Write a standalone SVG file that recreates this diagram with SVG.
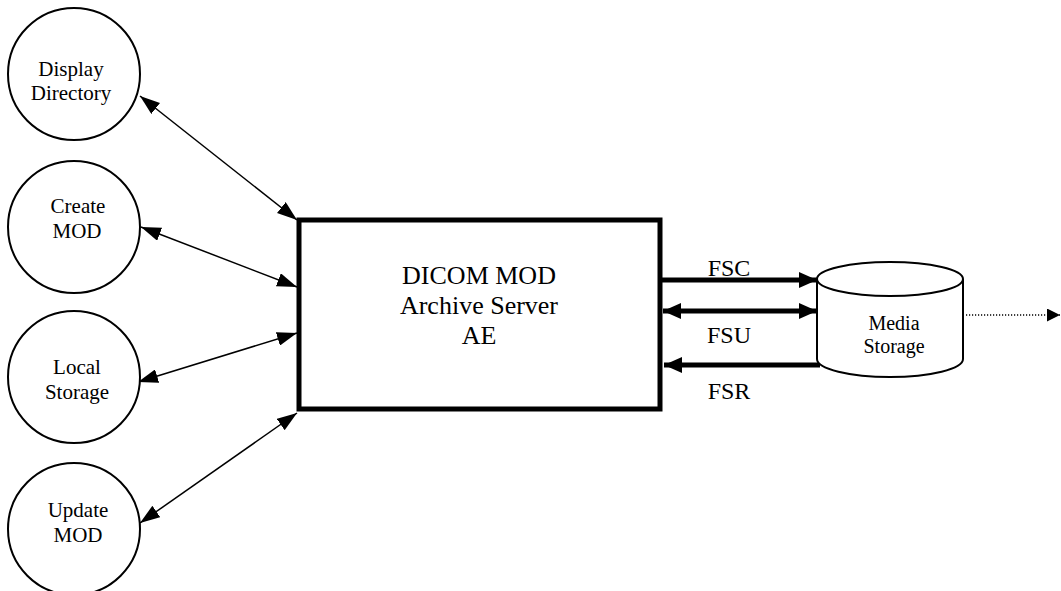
<svg xmlns="http://www.w3.org/2000/svg" width="1061" height="591" viewBox="0 0 1061 591" font-family="'Liberation Serif', 'Times New Roman', 'DejaVu Serif', serif">
<style>
.c{fill:#fff;stroke:#000;stroke-width:2}
.t{font-family:'Liberation Serif','Times New Roman','DejaVu Serif',serif;fill:#000;text-anchor:middle}
.s{font-size:21px}
.thin{stroke:#000;stroke-width:1.5;fill:none}
.thick{stroke:#000;stroke-width:5;fill:none}
</style>
<defs>
<marker id="ah" markerUnits="userSpaceOnUse" markerWidth="20" markerHeight="14" refX="20" refY="7" orient="auto-start-reverse"><path d="M0,0 L20,7 L0,14 z" fill="#000"/></marker>
<marker id="ahb" markerUnits="userSpaceOnUse" markerWidth="18" markerHeight="16" refX="18" refY="8" orient="auto-start-reverse"><path d="M0,0 L18,8 L0,16 z" fill="#000"/></marker>
<marker id="ahd" markerUnits="userSpaceOnUse" markerWidth="13" markerHeight="13" refX="13" refY="6.5" orient="auto"><path d="M0,0 L13,6.5 L0,13 z" fill="#000"/></marker>
</defs>
<rect width="1061" height="591" fill="#fff"/>
<g id="connectors">
<line class="thin" x1="140" y1="96" x2="297" y2="220" marker-start="url(#ah)" marker-end="url(#ah)"/>
<line class="thin" x1="141" y1="227" x2="297" y2="287" marker-start="url(#ah)" marker-end="url(#ah)"/>
<line class="thin" x1="138" y1="382" x2="297" y2="333" marker-start="url(#ah)" marker-end="url(#ah)"/>
<line class="thin" x1="140" y1="523" x2="297" y2="413" marker-start="url(#ah)" marker-end="url(#ah)"/>
<line class="thick" x1="660" y1="280" x2="817" y2="280" marker-end="url(#ahb)"/>
<line class="thick" x1="663" y1="311" x2="817" y2="311" marker-start="url(#ahb)" marker-end="url(#ahb)"/>
<line class="thick" x1="820" y1="365" x2="664" y2="365" marker-end="url(#ahb)"/>
<line x1="966" y1="315" x2="1060" y2="315" stroke="#000" stroke-width="1.3" stroke-dasharray="1.2,1.8" marker-end="url(#ahd)"/>
<text class="t" x="729" y="276" font-size="24">FSC</text>
<text class="t" x="729" y="343" font-size="24">FSU</text>
<text class="t" x="729" y="399" font-size="24">FSR</text>
</g>
<g id="display-directory">
<circle class="c" cx="74" cy="74" r="66"/>
<text class="t s" x="71" y="76">Display</text>
<text class="t s" x="71" y="100">Directory</text>
</g>
<g id="create-mod">
<circle class="c" cx="74" cy="227" r="66"/>
<text class="t s" x="78" y="213">Create</text>
<text class="t s" x="77" y="238">MOD</text>
</g>
<g id="local-storage">
<circle class="c" cx="74" cy="377" r="66"/>
<text class="t s" x="77" y="374">Local</text>
<text class="t s" x="77" y="399">Storage</text>
</g>
<g id="update-mod">
<circle class="c" cx="74" cy="529" r="66"/>
<text class="t s" x="78" y="517">Update</text>
<text class="t s" x="78" y="542">MOD</text>
</g>
<g id="archive-server">
<rect x="299" y="220" width="361" height="189" fill="#fff" stroke="#000" stroke-width="5"/>
<text class="t" x="479" y="284" font-size="26">DICOM MOD</text>
<text class="t" x="479" y="314" font-size="26">Archive Server</text>
<text class="t" x="479" y="344" font-size="26">AE</text>
</g>
<g id="media-storage">
<path d="M817,279 L817,359 A73,18 0 0 0 963,359 L963,279" fill="#fff" stroke="#000" stroke-width="2"/>
<ellipse cx="890" cy="279" rx="73" ry="17" fill="#fff" stroke="#000" stroke-width="2"/>
<text class="t" x="894" y="330" font-size="20">Media</text>
<text class="t" x="894" y="353" font-size="20">Storage</text>
</g>
</svg>
